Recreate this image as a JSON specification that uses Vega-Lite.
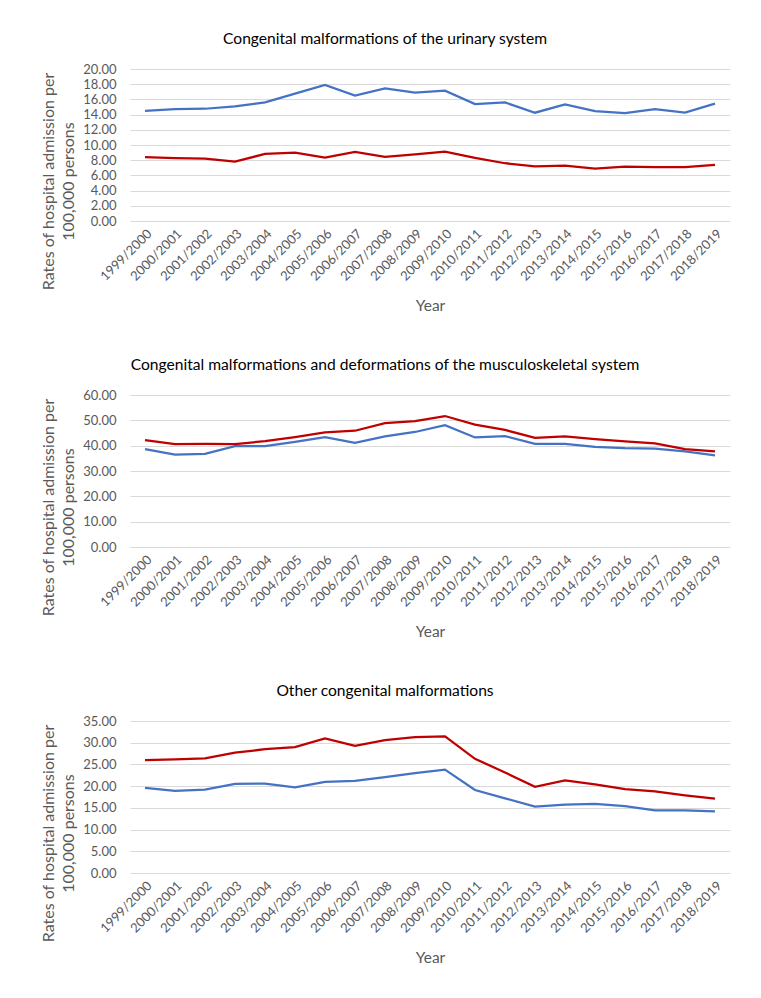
{
  "$schema": "https://vega.github.io/schema/vega-lite/v6.json",
  "padding": {"left": 39, "top": 32, "right": 20, "bottom": 5},
  "spacing": 44,
  "config": {
    "font": "Lato",
    "view": {"stroke": null},
    "axis": {"labelColor": "#595959", "titleColor": "#595959", "labelFont": "Lato", "titleFont": "Lato", "titleFontWeight": "normal", "gridColor": "#d9d9d9", "gridWidth": 1, "domain": false, "ticks": false},
    "title": {"font": "Lato", "fontSize": 15.6, "fontWeight": "normal", "color": "#000000", "anchor": "middle", "frame": "bounds", "offset": 15},
    "line": {"strokeWidth": 2.25}
  },
  "datasets": {
    "urinary": [
      {"year": "1999/2000", "series": "Series 1", "rate": 14.5}, {"year": "2000/2001", "series": "Series 1", "rate": 14.73}, {"year": "2001/2002", "series": "Series 1", "rate": 14.77}, {"year": "2002/2003", "series": "Series 1", "rate": 15.08}, {"year": "2003/2004", "series": "Series 1", "rate": 15.6}, {"year": "2004/2005", "series": "Series 1", "rate": 16.76}, {"year": "2005/2006", "series": "Series 1", "rate": 17.9}, {"year": "2006/2007", "series": "Series 1", "rate": 16.5}, {"year": "2007/2008", "series": "Series 1", "rate": 17.46}, {"year": "2008/2009", "series": "Series 1", "rate": 16.9}, {"year": "2009/2010", "series": "Series 1", "rate": 17.15}, {"year": "2010/2011", "series": "Series 1", "rate": 15.39}, {"year": "2011/2012", "series": "Series 1", "rate": 15.6}, {"year": "2012/2013", "series": "Series 1", "rate": 14.25}, {"year": "2013/2014", "series": "Series 1", "rate": 15.35}, {"year": "2014/2015", "series": "Series 1", "rate": 14.47}, {"year": "2015/2016", "series": "Series 1", "rate": 14.2}, {"year": "2016/2017", "series": "Series 1", "rate": 14.73}, {"year": "2017/2018", "series": "Series 1", "rate": 14.25}, {"year": "2018/2019", "series": "Series 1", "rate": 15.44},
      {"year": "1999/2000", "series": "Series 2", "rate": 8.39}, {"year": "2000/2001", "series": "Series 2", "rate": 8.26}, {"year": "2001/2002", "series": "Series 2", "rate": 8.21}, {"year": "2002/2003", "series": "Series 2", "rate": 7.81}, {"year": "2003/2004", "series": "Series 2", "rate": 8.83}, {"year": "2004/2005", "series": "Series 2", "rate": 9.0}, {"year": "2005/2006", "series": "Series 2", "rate": 8.34}, {"year": "2006/2007", "series": "Series 2", "rate": 9.09}, {"year": "2007/2008", "series": "Series 2", "rate": 8.43}, {"year": "2008/2009", "series": "Series 2", "rate": 8.78}, {"year": "2009/2010", "series": "Series 2", "rate": 9.14}, {"year": "2010/2011", "series": "Series 2", "rate": 8.3}, {"year": "2011/2012", "series": "Series 2", "rate": 7.6}, {"year": "2012/2013", "series": "Series 2", "rate": 7.2}, {"year": "2013/2014", "series": "Series 2", "rate": 7.29}, {"year": "2014/2015", "series": "Series 2", "rate": 6.9}, {"year": "2015/2016", "series": "Series 2", "rate": 7.16}, {"year": "2016/2017", "series": "Series 2", "rate": 7.1}, {"year": "2017/2018", "series": "Series 2", "rate": 7.1}, {"year": "2018/2019", "series": "Series 2", "rate": 7.38}
    ],
    "musculoskeletal": [
      {"year": "1999/2000", "series": "Series 1", "rate": 38.6}, {"year": "2000/2001", "series": "Series 1", "rate": 36.5}, {"year": "2001/2002", "series": "Series 1", "rate": 36.8}, {"year": "2002/2003", "series": "Series 1", "rate": 39.8}, {"year": "2003/2004", "series": "Series 1", "rate": 39.8}, {"year": "2004/2005", "series": "Series 1", "rate": 41.5}, {"year": "2005/2006", "series": "Series 1", "rate": 43.4}, {"year": "2006/2007", "series": "Series 1", "rate": 41.1}, {"year": "2007/2008", "series": "Series 1", "rate": 43.65}, {"year": "2008/2009", "series": "Series 1", "rate": 45.4}, {"year": "2009/2010", "series": "Series 1", "rate": 48.1}, {"year": "2010/2011", "series": "Series 1", "rate": 43.25}, {"year": "2011/2012", "series": "Series 1", "rate": 43.8}, {"year": "2012/2013", "series": "Series 1", "rate": 40.7}, {"year": "2013/2014", "series": "Series 1", "rate": 40.7}, {"year": "2014/2015", "series": "Series 1", "rate": 39.55}, {"year": "2015/2016", "series": "Series 1", "rate": 39.0}, {"year": "2016/2017", "series": "Series 1", "rate": 38.8}, {"year": "2017/2018", "series": "Series 1", "rate": 37.7}, {"year": "2018/2019", "series": "Series 1", "rate": 36.2},
      {"year": "1999/2000", "series": "Series 2", "rate": 42.2}, {"year": "2000/2001", "series": "Series 2", "rate": 40.6}, {"year": "2001/2002", "series": "Series 2", "rate": 40.7}, {"year": "2002/2003", "series": "Series 2", "rate": 40.6}, {"year": "2003/2004", "series": "Series 2", "rate": 41.8}, {"year": "2004/2005", "series": "Series 2", "rate": 43.4}, {"year": "2005/2006", "series": "Series 2", "rate": 45.2}, {"year": "2006/2007", "series": "Series 2", "rate": 45.9}, {"year": "2007/2008", "series": "Series 2", "rate": 48.9}, {"year": "2008/2009", "series": "Series 2", "rate": 49.7}, {"year": "2009/2010", "series": "Series 2", "rate": 51.7}, {"year": "2010/2011", "series": "Series 2", "rate": 48.3}, {"year": "2011/2012", "series": "Series 2", "rate": 46.2}, {"year": "2012/2013", "series": "Series 2", "rate": 43.1}, {"year": "2013/2014", "series": "Series 2", "rate": 43.65}, {"year": "2014/2015", "series": "Series 2", "rate": 42.6}, {"year": "2015/2016", "series": "Series 2", "rate": 41.7}, {"year": "2016/2017", "series": "Series 2", "rate": 40.9}, {"year": "2017/2018", "series": "Series 2", "rate": 38.6}, {"year": "2018/2019", "series": "Series 2", "rate": 37.7}
    ],
    "other": [
      {"year": "1999/2000", "series": "Series 1", "rate": 19.6}, {"year": "2000/2001", "series": "Series 1", "rate": 18.9}, {"year": "2001/2002", "series": "Series 1", "rate": 19.2}, {"year": "2002/2003", "series": "Series 1", "rate": 20.5}, {"year": "2003/2004", "series": "Series 1", "rate": 20.6}, {"year": "2004/2005", "series": "Series 1", "rate": 19.7}, {"year": "2005/2006", "series": "Series 1", "rate": 21.0}, {"year": "2006/2007", "series": "Series 1", "rate": 21.2}, {"year": "2007/2008", "series": "Series 1", "rate": 22.1}, {"year": "2008/2009", "series": "Series 1", "rate": 23.0}, {"year": "2009/2010", "series": "Series 1", "rate": 23.8}, {"year": "2010/2011", "series": "Series 1", "rate": 19.1}, {"year": "2011/2012", "series": "Series 1", "rate": 17.2}, {"year": "2012/2013", "series": "Series 1", "rate": 15.3}, {"year": "2013/2014", "series": "Series 1", "rate": 15.77}, {"year": "2014/2015", "series": "Series 1", "rate": 15.9}, {"year": "2015/2016", "series": "Series 1", "rate": 15.4}, {"year": "2016/2017", "series": "Series 1", "rate": 14.4}, {"year": "2017/2018", "series": "Series 1", "rate": 14.4}, {"year": "2018/2019", "series": "Series 1", "rate": 14.2},
      {"year": "1999/2000", "series": "Series 2", "rate": 26.0}, {"year": "2000/2001", "series": "Series 2", "rate": 26.15}, {"year": "2001/2002", "series": "Series 2", "rate": 26.4}, {"year": "2002/2003", "series": "Series 2", "rate": 27.7}, {"year": "2003/2004", "series": "Series 2", "rate": 28.5}, {"year": "2004/2005", "series": "Series 2", "rate": 29.0}, {"year": "2005/2006", "series": "Series 2", "rate": 31.0}, {"year": "2006/2007", "series": "Series 2", "rate": 29.3}, {"year": "2007/2008", "series": "Series 2", "rate": 30.6}, {"year": "2008/2009", "series": "Series 2", "rate": 31.3}, {"year": "2009/2010", "series": "Series 2", "rate": 31.46}, {"year": "2010/2011", "series": "Series 2", "rate": 26.3}, {"year": "2011/2012", "series": "Series 2", "rate": 23.15}, {"year": "2012/2013", "series": "Series 2", "rate": 19.85}, {"year": "2013/2014", "series": "Series 2", "rate": 21.3}, {"year": "2014/2015", "series": "Series 2", "rate": 20.4}, {"year": "2015/2016", "series": "Series 2", "rate": 19.3}, {"year": "2016/2017", "series": "Series 2", "rate": 18.8}, {"year": "2017/2018", "series": "Series 2", "rate": 17.9}, {"year": "2018/2019", "series": "Series 2", "rate": 17.1}
    ]
  },
  "vconcat": [
    {
      "title": "Congenital malformations of the urinary system",
      "data": {"name": "urinary"},
      "width": 600, "height": 152,
      "mark": {"type": "line"},
      "encoding": {
        "x": {"field": "year", "type": "ordinal", "sort": null, "scale": {"type": "point", "padding": 0.5}, "axis": {"title": "Year", "labelAngle": -45, "labelFontSize": 13, "labelPadding": 6, "titleFontSize": 15.5, "titlePadding": 15, "grid": false}},
        "y": {"field": "rate", "type": "quantitative", "scale": {"domain": [0, 20]}, "axis": {"values": [0, 2, 4, 6, 8, 10, 12, 14, 16, 18, 20], "format": ".2f", "labelFontSize": 13, "labelPadding": 14, "title": ["Rates of hospital admission per", "100,000 persons"], "titleFontSize": 16, "titleLineHeight": 20, "titleX": -82, "titleY": 112, "titleAlign": "center", "titleBaseline": "middle"}},
        "color": {"field": "series", "type": "nominal", "scale": {"domain": ["Series 1", "Series 2"], "range": ["#4472C4", "#C00000"]}, "legend": null}
      }
    },
    {
      "title": "Congenital malformations and deformations of the musculoskeletal system",
      "data": {"name": "musculoskeletal"},
      "width": 600, "height": 152,
      "mark": {"type": "line"},
      "encoding": {
        "x": {"field": "year", "type": "ordinal", "sort": null, "scale": {"type": "point", "padding": 0.5}, "axis": {"title": "Year", "labelAngle": -45, "labelFontSize": 13, "labelPadding": 6, "titleFontSize": 15.5, "titlePadding": 15, "grid": false}},
        "y": {"field": "rate", "type": "quantitative", "scale": {"domain": [0, 60]}, "axis": {"values": [0, 10, 20, 30, 40, 50, 60], "format": ".2f", "labelFontSize": 13, "labelPadding": 14, "title": ["Rates of hospital admission per", "100,000 persons"], "titleFontSize": 16, "titleLineHeight": 20, "titleX": -82, "titleY": 112, "titleAlign": "center", "titleBaseline": "middle"}},
        "color": {"field": "series", "type": "nominal", "scale": {"domain": ["Series 1", "Series 2"], "range": ["#4472C4", "#C00000"]}, "legend": null}
      }
    },
    {
      "title": "Other congenital malformations",
      "data": {"name": "other"},
      "width": 600, "height": 152,
      "mark": {"type": "line"},
      "encoding": {
        "x": {"field": "year", "type": "ordinal", "sort": null, "scale": {"type": "point", "padding": 0.5}, "axis": {"title": "Year", "labelAngle": -45, "labelFontSize": 13, "labelPadding": 6, "titleFontSize": 15.5, "titlePadding": 15, "grid": false}},
        "y": {"field": "rate", "type": "quantitative", "scale": {"domain": [0, 35]}, "axis": {"values": [0, 5, 10, 15, 20, 25, 30, 35], "format": ".2f", "labelFontSize": 13, "labelPadding": 14, "title": ["Rates of hospital admission per", "100,000 persons"], "titleFontSize": 16, "titleLineHeight": 20, "titleX": -82, "titleY": 112, "titleAlign": "center", "titleBaseline": "middle"}},
        "color": {"field": "series", "type": "nominal", "scale": {"domain": ["Series 1", "Series 2"], "range": ["#4472C4", "#C00000"]}, "legend": null}
      }
    }
  ]
}
